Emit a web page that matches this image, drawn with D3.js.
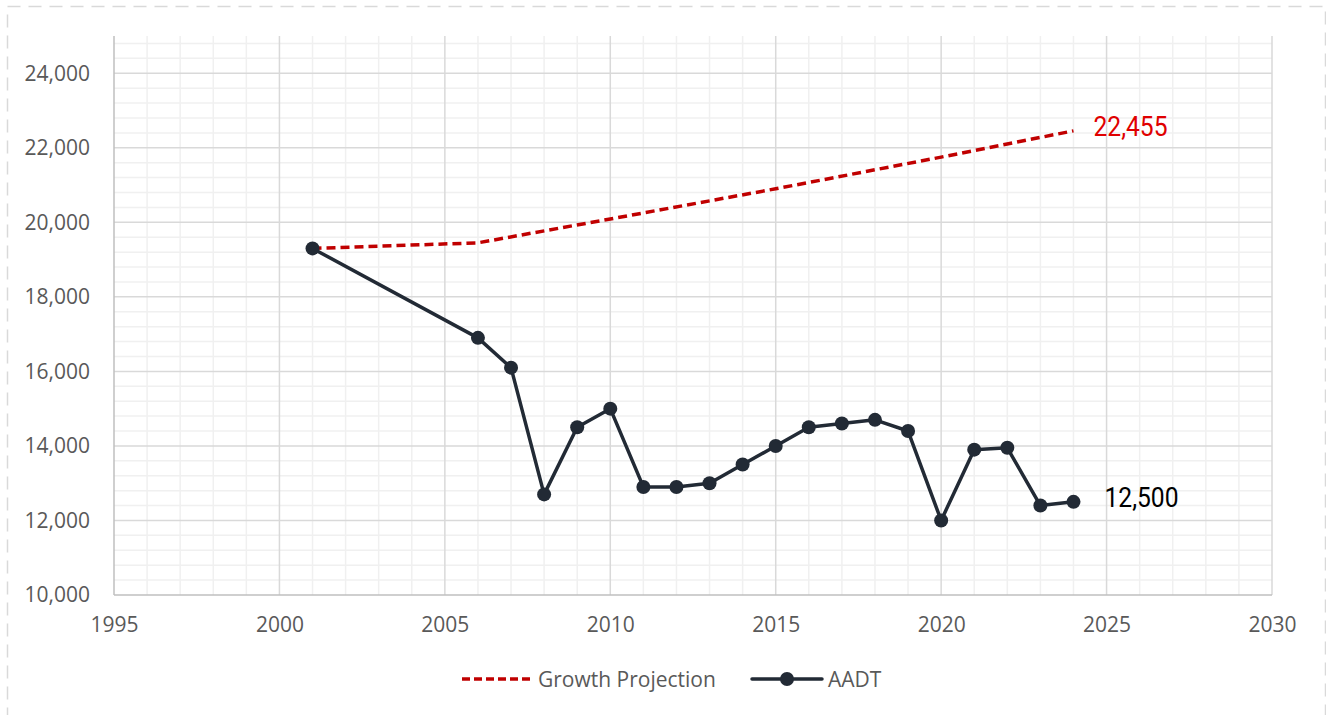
<!DOCTYPE html>
<html>
<head>
<meta charset="utf-8">
<script src="https://cdn.jsdelivr.net/npm/d3@7"></script>
<style>
  html, body { margin: 0; padding: 0; background: #fff; }
  svg { display: block; }
</style>
</head>
<body>
<svg id="chart" width="1326" height="715"></svg>
<script>
// AADT counts by year
const aadtYears = [2001, 2006, 2007, 2008, 2009, 2010, 2011, 2012, 2013, 2014, 2015, 2016, 2017, 2018, 2019, 2020, 2021, 2022, 2023, 2024];
const aadtValues = [19300, 16900, 16100, 12700, 14500, 15000, 12900, 12900, 13000, 13500, 14000, 14500, 14600, 14700, 14400, 12000, 13900, 13950, 12400, 12500];

// Growth projection line
const projYears = [2001, 2006, 2010, 2015, 2020, 2024];
const projValues = [19300, 19450, 20090, 20900, 21750, 22455];

// Axis ticks
const xTicks = [1995, 2000, 2005, 2010, 2015, 2020, 2025, 2030];
const yTicks = [10000, 12000, 14000, 16000, 18000, 20000, 22000, 24000];

const legendLabels = ["Growth Projection", "AADT"];

const svg = d3.select("#chart");
const margin = { left: 114, right: 1272, top: 36, bottom: 595 };

const x = d3.scaleLinear().domain([1995, 2030]).range([margin.left, margin.right]);
const y = d3.scaleLinear().domain([10000, 25000]).range([margin.bottom, margin.top]);

// Outer dashed frame
svg.append("rect")
  .attr("x", 7.5).attr("y", 6.5)
  .attr("width", 1318).attr("height", 740)
  .attr("fill", "none")
  .attr("stroke", "#d9d9d9")
  .attr("stroke-width", 1.5)
  .attr("stroke-dasharray", "13,8");

const grid = svg.append("g");

// Minor gridlines
const minorX = d3.range(1996, 2030, 1).filter(v => v % 5 !== 0);
const minorY = d3.range(10400, 25000, 400).filter(v => v % 2000 !== 0);
grid.selectAll(".mx").data(minorX).join("line")
  .attr("x1", d => x(d)).attr("x2", d => x(d))
  .attr("y1", margin.top).attr("y2", margin.bottom)
  .attr("stroke", "#f0f0f0").attr("stroke-width", 1.5);
grid.selectAll(".my").data(minorY).join("line")
  .attr("x1", margin.left).attr("x2", margin.right)
  .attr("y1", d => y(d)).attr("y2", d => y(d))
  .attr("stroke", "#f0f0f0").attr("stroke-width", 1.5);

// Major gridlines
grid.selectAll(".Mx").data(xTicks.filter(d => d > 1995)).join("line")
  .attr("x1", d => x(d)).attr("x2", d => x(d))
  .attr("y1", margin.top).attr("y2", margin.bottom)
  .attr("stroke", "#d9d9d9").attr("stroke-width", 1.5);
grid.selectAll(".My").data(yTicks.filter(d => d > 10000)).join("line")
  .attr("x1", margin.left).attr("x2", margin.right)
  .attr("y1", d => y(d)).attr("y2", d => y(d))
  .attr("stroke", "#d9d9d9").attr("stroke-width", 1.5);

// Axis lines
grid.append("line")
  .attr("x1", margin.left).attr("x2", margin.left)
  .attr("y1", margin.top).attr("y2", margin.bottom)
  .attr("stroke", "#bfbfbf").attr("stroke-width", 1.5);
grid.append("line")
  .attr("x1", margin.left).attr("x2", margin.right)
  .attr("y1", margin.bottom).attr("y2", margin.bottom)
  .attr("stroke", "#bfbfbf").attr("stroke-width", 1.5);

// Axes (labels only)
const fmt = d3.format(",");
const yAxis = d3.axisLeft(y).tickValues(yTicks).tickFormat(fmt).tickSize(0).tickPadding(24);
const xAxis = d3.axisBottom(x).tickValues(xTicks).tickFormat(d3.format("d")).tickSize(0).tickPadding(22);

const gy = svg.append("g").attr("transform", `translate(${margin.left},0)`).call(yAxis);
const gx = svg.append("g").attr("transform", `translate(0,${margin.bottom})`).call(xAxis);
[gy, gx].forEach(g => {
  g.select(".domain").remove();
  g.selectAll("text")
    .attr("fill", "#595959")
    .style("font-family", "'Open Sans', sans-serif")
    .style("font-size", "21px");
});

// Growth projection
const projData = projYears.map((d, i) => ({ x: d, y: projValues[i] }));
svg.append("path")
  .datum(projData)
  .attr("d", d3.line().x(d => x(d.x)).y(d => y(d.y)))
  .attr("fill", "none")
  .attr("stroke", "#c00000")
  .attr("stroke-width", 3.5)
  .attr("stroke-linejoin", "round")
  .attr("stroke-dasharray", "9,5");

// AADT line and markers
const aadtData = aadtYears.map((d, i) => ({ x: d, y: aadtValues[i] }));
svg.append("path")
  .datum(aadtData)
  .attr("d", d3.line().x(d => x(d.x)).y(d => y(d.y)))
  .attr("fill", "none")
  .attr("stroke", "#222a35")
  .attr("stroke-width", 3.5)
  .attr("stroke-linejoin", "round");
svg.selectAll(".pt").data(aadtData).join("circle")
  .attr("cx", d => x(d.x)).attr("cy", d => y(d.y))
  .attr("r", 7)
  .attr("fill", "#222a35");

// End-value labels
const lastProj = projData[projData.length - 1];
const lastAadt = aadtData[aadtData.length - 1];
function endLabel(px, py, text, color) {
  svg.append("text")
    .attr("transform", `translate(${px},${py}) scale(0.88,1)`)
    .attr("fill", color)
    .style("font-family", "Roboto, sans-serif")
    .style("font-size", "28px")
    .text(text);
}
endLabel(x(lastProj.x) + 20, y(lastProj.y) + 5, fmt(lastProj.y), "#e00000");
endLabel(x(lastAadt.x) + 31, y(lastAadt.y) + 5, fmt(lastAadt.y), "#000000");

// Legend
const lg = svg.append("g");
lg.append("line")
  .attr("x1", 462).attr("x2", 531).attr("y1", 679).attr("y2", 679)
  .attr("stroke", "#c00000").attr("stroke-width", 3.5)
  .attr("stroke-dasharray", "8,4");
lg.append("text")
  .attr("x", 538).attr("y", 687)
  .attr("fill", "#595959")
  .style("font-family", "'Open Sans', sans-serif")
  .style("font-size", "21px")
  .text(legendLabels[0]);
lg.append("line")
  .attr("x1", 752).attr("x2", 822).attr("y1", 679).attr("y2", 679)
  .attr("stroke", "#222a35").attr("stroke-width", 3.5)
  .attr("stroke-linecap", "round");
lg.append("circle")
  .attr("cx", 787).attr("cy", 679).attr("r", 7)
  .attr("fill", "#222a35");
lg.append("text")
  .attr("x", 828).attr("y", 687)
  .attr("fill", "#595959")
  .style("font-family", "'Open Sans', sans-serif")
  .style("font-size", "21px")
  .text(legendLabels[1]);
</script>
</body>
</html>
